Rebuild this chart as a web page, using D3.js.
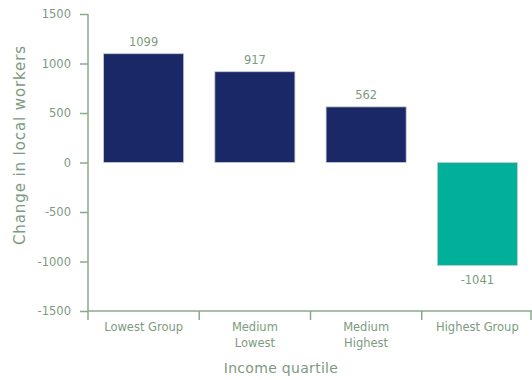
<!DOCTYPE html>
<html>
<head>
<meta charset="utf-8">
<script src="https://cdn.jsdelivr.net/npm/d3@7"></script>
<style>
  html, body { margin: 0; padding: 0; background: #fff; }
  svg { display: block; font-family: "DejaVu Sans", "Noto Sans", sans-serif; }
</style>
</head>
<body>
<svg id="chart" width="532" height="380"></svg>
<script>
// Change in local workers by income quartile
const categories = ["Lowest Group", "Medium Lowest", "Medium Highest", "Highest Group"];
const categoryLines = [["Lowest Group"], ["Medium", "Lowest"], ["Medium", "Highest"], ["Highest Group"]];
const values = [1099, 917, 562, -1041];
const yTicks = [1500, 1000, 500, 0, -500, -1000, -1500];

const textColor = "#7d9a80";
const axisColor = "#8aa88c";
const posColor = "#1b2867";
const negColor = "#00b09b";
const font = "DejaVu Sans, sans-serif";

const svg = d3.select("#chart");
const margin = { left: 88, right: 0, top: 14, bottom: 69 };
const W = 532, H = 380;

const x = d3.scaleBand()
  .domain(categories)
  .range([margin.left, W - margin.right + 1])
  .paddingInner(0.28)
  .paddingOuter(0.14);

const y = d3.scaleLinear()
  .domain([-1500, 1500])
  .range([H - margin.bottom, margin.top]);

// Y axis
const yAxis = svg.append("g")
  .attr("transform", `translate(${margin.left},0)`)
  .call(d3.axisLeft(y).tickValues(yTicks).tickSize(8).tickPadding(9).tickFormat(d => String(d)));
yAxis.selectAll("path, line").attr("stroke", axisColor).attr("stroke-width", 1.5);
yAxis.select(".domain").attr("d", `M0,${y(1500)}V${y(-1500)}`);
yAxis.selectAll("text").attr("fill", textColor).attr("font-size", 11.5).attr("font-family", font);

// X axis line with ticks at band boundaries
const xg = svg.append("g");
xg.append("line")
  .attr("x1", margin.left).attr("x2", W)
  .attr("y1", y(-1500)).attr("y2", y(-1500))
  .attr("stroke", axisColor).attr("stroke-width", 1.5);
const step = x.step();
const bounds = d3.range(categories.length + 1).map(i => margin.left + i * step);
xg.selectAll("line.tick").data(bounds).join("line")
  .attr("class", "tick")
  .attr("x1", d => Math.min(d, W - 1)).attr("x2", d => Math.min(d, W - 1))
  .attr("y1", y(-1500)).attr("y2", y(-1500) + 9)
  .attr("stroke", axisColor).attr("stroke-width", 1.5);

// Category labels
categories.forEach((c, i) => {
  const cx = x(c) + x.bandwidth() / 2;
  const t = svg.append("text")
    .attr("x", cx).attr("y", y(-1500) + 20)
    .attr("text-anchor", "middle")
    .attr("fill", textColor).attr("font-size", 11.5);
  categoryLines[i].forEach((line, j) => {
    t.append("tspan").attr("x", cx).attr("dy", j === 0 ? 0 : 16).text(line);
  });
});

// Bars
svg.append("g").selectAll("rect").data(values).join("rect")
  .attr("x", (d, i) => x(categories[i]))
  .attr("width", x.bandwidth())
  .attr("y", d => y(Math.max(0, d)))
  .attr("height", d => Math.abs(y(d) - y(0)))
  .attr("fill", d => d >= 0 ? posColor : negColor)
  .attr("stroke", "#c9cccc").attr("stroke-width", 0.8);

// Value labels
svg.append("g").selectAll("text").data(values).join("text")
  .attr("x", (d, i) => x(categories[i]) + x.bandwidth() / 2)
  .attr("y", d => d >= 0 ? y(d) - 8 : y(d) + 18)
  .attr("text-anchor", "middle")
  .attr("fill", textColor).attr("font-size", 11.5)
  .text(d => String(d));

// Axis titles
svg.append("text")
  .attr("transform", `translate(25,145) rotate(-90)`)
  .attr("text-anchor", "middle")
  .attr("fill", textColor).attr("font-size", 15).attr("letter-spacing", 0.9)
  .text("Change in local workers");

svg.append("text")
  .attr("x", 281).attr("y", 373)
  .attr("text-anchor", "middle")
  .attr("fill", textColor).attr("font-size", 14).attr("letter-spacing", 0.3)
  .text("Income quartile");
</script>
</body>
</html>
